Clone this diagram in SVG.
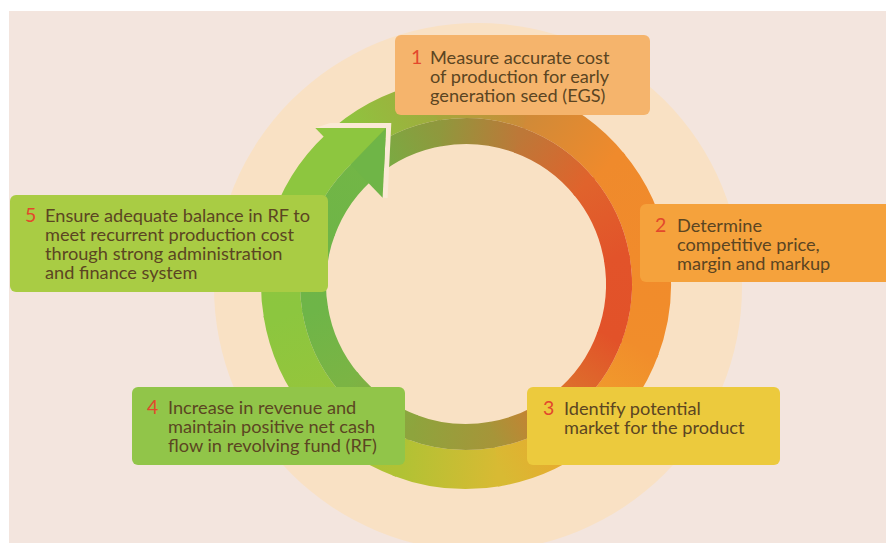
<svg xmlns="http://www.w3.org/2000/svg" width="886" height="543" viewBox="0 0 886 543">
  <defs>
    <style>
      .lbl{font-family:Lato,"Open Sans","Liberation Sans",sans-serif;font-size:18.2px;fill:#5b4522}
      .num{font-family:Lato,"Open Sans","Liberation Sans",sans-serif;font-size:19.5px;fill:#e3482c}
      .box{stroke:none}
    </style>
    <!-- template gradients for one 30 degree ring segment (outer band / inner band) -->
    <linearGradient id="go" gradientUnits="userSpaceOnUse" x1="466" y1="98.5" x2="558.75" y2="123.35"/>
    <linearGradient id="gi" gradientUnits="userSpaceOnUse" x1="466" y1="131" x2="542.5" y2="151.5"/>
    <!-- outer band colours, clockwise from -40deg -->
    <linearGradient id="o0" href="#go"><stop offset="0" stop-color="#8dc63f"/><stop offset="1" stop-color="#a1aa3d"/></linearGradient>
    <linearGradient id="o1" href="#go"><stop offset="0" stop-color="#a1aa3d"/><stop offset="1" stop-color="#cf8a38"/></linearGradient>
    <linearGradient id="o2" href="#go"><stop offset="0" stop-color="#cf8a38"/><stop offset="1" stop-color="#ef8a2c"/></linearGradient>
    <linearGradient id="o3" href="#go"><stop offset="0" stop-color="#ef8a2c"/><stop offset="1" stop-color="#f18b2b"/></linearGradient>
    <linearGradient id="o4" href="#go"><stop offset="0" stop-color="#f18b2b"/><stop offset="1" stop-color="#f18d2b"/></linearGradient>
    <linearGradient id="o5" href="#go"><stop offset="0" stop-color="#f18d2b"/><stop offset="1" stop-color="#f0a22d"/></linearGradient>
    <linearGradient id="o6" href="#go"><stop offset="0" stop-color="#f0a22d"/><stop offset="1" stop-color="#d8ba33"/></linearGradient>
    <linearGradient id="o7" href="#go"><stop offset="0" stop-color="#d8ba33"/><stop offset="1" stop-color="#b1c234"/></linearGradient>
    <linearGradient id="o8" href="#go"><stop offset="0" stop-color="#b1c234"/><stop offset="1" stop-color="#96c53b"/></linearGradient>
    <linearGradient id="o9" href="#go"><stop offset="0" stop-color="#96c53b"/><stop offset="1" stop-color="#8cc63f"/></linearGradient>
    <linearGradient id="o10" href="#go"><stop offset="0" stop-color="#8cc63f"/><stop offset="1" stop-color="#8dc63f"/></linearGradient>
    <linearGradient id="o11" href="#go"><stop offset="0" stop-color="#8dc63f"/><stop offset="1" stop-color="#8dc63f"/></linearGradient>
    <!-- inner band colours -->
    <linearGradient id="i0" href="#gi"><stop offset="0" stop-color="#74b044"/><stop offset="1" stop-color="#8f983d"/></linearGradient>
    <linearGradient id="i1" href="#gi"><stop offset="0" stop-color="#8f983d"/><stop offset="1" stop-color="#bd7838"/></linearGradient>
    <linearGradient id="i2" href="#gi"><stop offset="0" stop-color="#bd7838"/><stop offset="1" stop-color="#e0632c"/></linearGradient>
    <linearGradient id="i3" href="#gi"><stop offset="0" stop-color="#e0632c"/><stop offset="1" stop-color="#e2532a"/></linearGradient>
    <linearGradient id="i4" href="#gi"><stop offset="0" stop-color="#e2532a"/><stop offset="1" stop-color="#e25229"/></linearGradient>
    <linearGradient id="i5" href="#gi"><stop offset="0" stop-color="#e25229"/><stop offset="1" stop-color="#dc742d"/></linearGradient>
    <linearGradient id="i6" href="#gi"><stop offset="0" stop-color="#dc742d"/><stop offset="1" stop-color="#a69539"/></linearGradient>
    <linearGradient id="i7" href="#gi"><stop offset="0" stop-color="#a69539"/><stop offset="1" stop-color="#8ea43d"/></linearGradient>
    <linearGradient id="i8" href="#gi"><stop offset="0" stop-color="#8ea43d"/><stop offset="1" stop-color="#7bb444"/></linearGradient>
    <linearGradient id="i9" href="#gi"><stop offset="0" stop-color="#7bb444"/><stop offset="1" stop-color="#6eb548"/></linearGradient>
    <linearGradient id="i10" href="#gi"><stop offset="0" stop-color="#6eb548"/><stop offset="1" stop-color="#6fb547"/></linearGradient>
    <linearGradient id="i11" href="#gi"><stop offset="0" stop-color="#6fb547"/><stop offset="1" stop-color="#72b646"/></linearGradient>
    <!-- one ring segment (0..31deg), rotated into place -->
    <path id="so" d="M466 98.5A185.5 185.5 0 0 1 561.54 125" fill="none" stroke-width="39"/>
    <path id="si" d="M466 131A153 153 0 0 1 544.8 152.85" fill="none" stroke-width="26"/>
  </defs>

  <!-- backdrop -->
  <rect x="0" y="0" width="886" height="543" fill="#ffffff"/>
  <rect x="9" y="11" width="877" height="532" fill="#f3e5de"/>
  <circle cx="478" cy="287" r="264" fill="#f9e1c4"/>

  <!-- cycle arrow -->
  <g id="connectors">
    <g id="ring-outer">
      <use href="#so" stroke="url(#o0)" transform="rotate(-40 466 284)"/>
      <use href="#so" stroke="url(#o1)" transform="rotate(-10 466 284)"/>
      <use href="#so" stroke="url(#o2)" transform="rotate(20 466 284)"/>
      <use href="#so" stroke="url(#o3)" transform="rotate(50 466 284)"/>
      <use href="#so" stroke="url(#o4)" transform="rotate(80 466 284)"/>
      <use href="#so" stroke="url(#o5)" transform="rotate(110 466 284)"/>
      <use href="#so" stroke="url(#o6)" transform="rotate(140 466 284)"/>
      <use href="#so" stroke="url(#o7)" transform="rotate(170 466 284)"/>
      <use href="#so" stroke="url(#o8)" transform="rotate(200 466 284)"/>
      <use href="#so" stroke="url(#o9)" transform="rotate(230 466 284)"/>
      <use href="#so" stroke="url(#o10)" transform="rotate(260 466 284)"/>
      <use href="#so" stroke="url(#o11)" transform="rotate(290 466 284)"/>
    </g>
    <g id="ring-inner">
      <use href="#si" stroke="url(#i0)" transform="rotate(-40 466 284)"/>
      <use href="#si" stroke="url(#i1)" transform="rotate(-10 466 284)"/>
      <use href="#si" stroke="url(#i2)" transform="rotate(20 466 284)"/>
      <use href="#si" stroke="url(#i3)" transform="rotate(50 466 284)"/>
      <use href="#si" stroke="url(#i4)" transform="rotate(80 466 284)"/>
      <use href="#si" stroke="url(#i5)" transform="rotate(110 466 284)"/>
      <use href="#si" stroke="url(#i6)" transform="rotate(140 466 284)"/>
      <use href="#si" stroke="url(#i7)" transform="rotate(170 466 284)"/>
      <use href="#si" stroke="url(#i8)" transform="rotate(200 466 284)"/>
      <use href="#si" stroke="url(#i9)" transform="rotate(230 466 284)"/>
      <use href="#si" stroke="url(#i10)" transform="rotate(260 466 284)"/>
      <use href="#si" stroke="url(#i11)" transform="rotate(290 466 284)"/>
    </g>
    <!-- notch between head and tail -->
    <polygon points="315.3,127.9 330,122.9 391.3,123 387.6,197.9 382.6,197.7 386,128" fill="#fbe9d6"/>
    <!-- arrowhead, two tone -->
    <polygon points="315.3,127.9 386,128 350.7,164.6" fill="#8dc63f"/>
    <polygon points="350.7,164.6 386,128 382.6,197.7" fill="#6fb547"/>
  </g>

  <g id="step1">
    <rect class="box" x="395" y="35" width="255" height="80" rx="6" fill="#f5b46c"/>
    <text class="num" x="411" y="64">1</text>
    <text class="lbl" x="430" y="64">Measure accurate cost<tspan x="430" y="83">of production for early</tspan><tspan x="430" y="102">generation seed (EGS)</tspan></text>
  </g>

  <g id="step2">
    <rect class="box" x="640" y="204" width="252" height="78" rx="6" fill="#f5a23c"/>
    <text class="num" x="655" y="232">2</text>
    <text class="lbl" x="677" y="232">Determine<tspan x="677" y="251">competitive price,</tspan><tspan x="677" y="270">margin and markup</tspan></text>
  </g>

  <g id="step3">
    <rect class="box" x="527" y="387" width="253" height="78" rx="6" fill="#ecca3d"/>
    <text class="num" x="543" y="415">3</text>
    <text class="lbl" x="564" y="415">Identify potential<tspan x="564" y="434">market for the product</tspan></text>
  </g>

  <g id="step4">
    <rect class="box" x="132" y="387" width="273" height="78" rx="6" fill="#91c549"/>
    <text class="num" x="147" y="414">4</text>
    <text class="lbl" x="168" y="414">Increase in revenue and<tspan x="168" y="433">maintain positive net cash</tspan><tspan x="168" y="452">flow in revolving fund (RF)</tspan></text>
  </g>

  <g id="step5">
    <rect class="box" x="10" y="195" width="318" height="97" rx="6" fill="#a9cc44"/>
    <text class="num" x="25" y="222">5</text>
    <text class="lbl" x="45" y="222">Ensure adequate balance in RF to<tspan x="45" y="241">meet recurrent production cost</tspan><tspan x="45" y="260">through strong administration</tspan><tspan x="45" y="279">and finance system</tspan></text>
  </g>
</svg>
